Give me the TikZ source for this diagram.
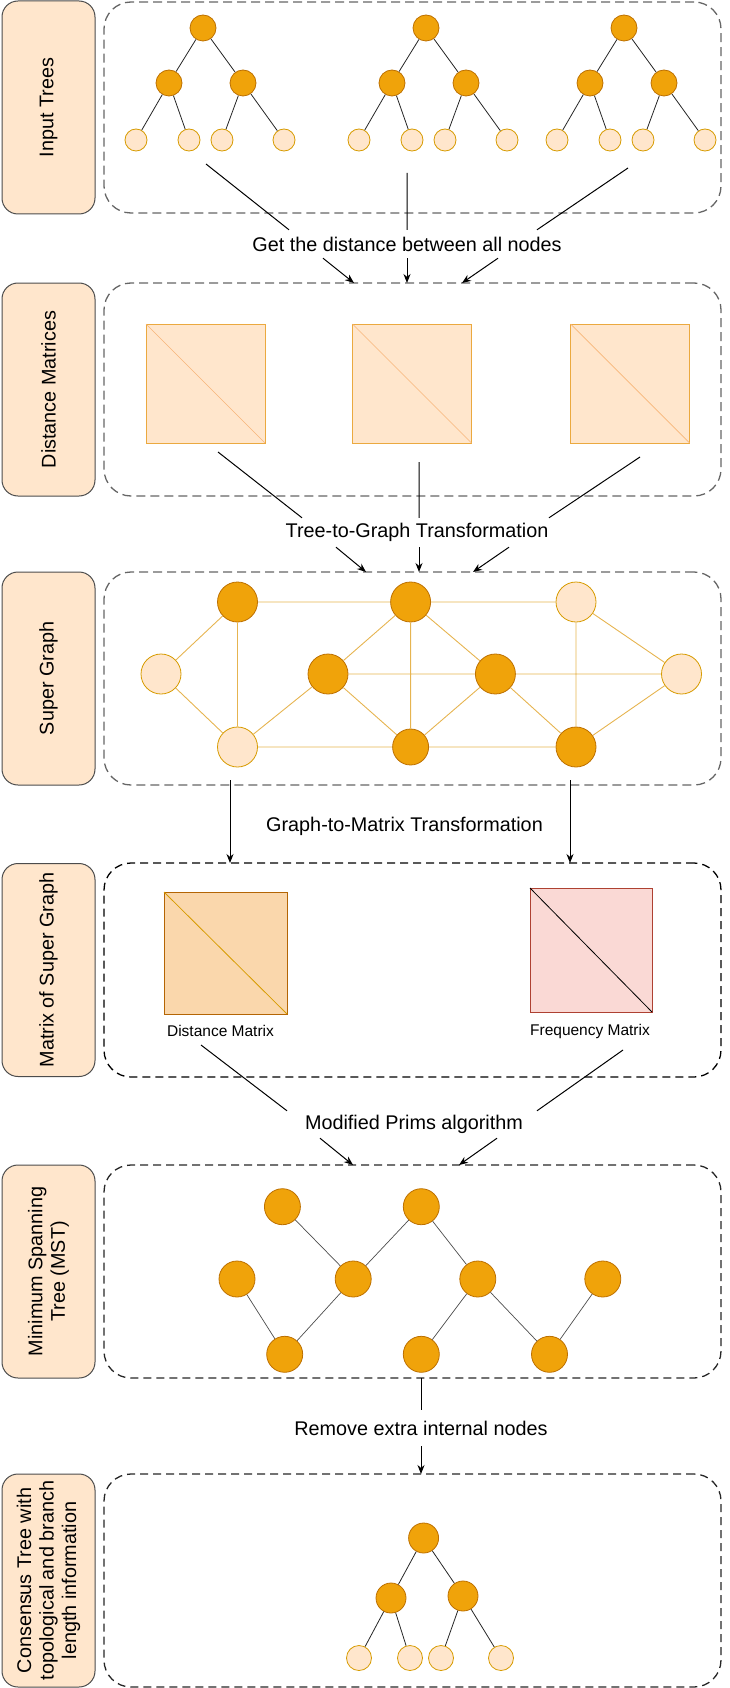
\documentclass[tikz,border=0pt]{standalone}
\usepackage{fontspec}
\setmainfont{Liberation Sans}
\usetikzlibrary{arrows.meta}
\definecolor{peach}{HTML}{FFE6CC}
\definecolor{gold}{HTML}{F0A30A}
\definecolor{golddark}{HTML}{BD7000}
\definecolor{goldline}{HTML}{D79B00}
\definecolor{edgegold}{HTML}{E6B450}
\definecolor{matline}{HTML}{EBA93F}
\definecolor{matdiag}{HTML}{F7B577}
\definecolor{distfill}{HTML}{FAD7AC}
\definecolor{diststroke}{HTML}{B46504}
\definecolor{freqfill}{HTML}{FAD9D5}
\definecolor{freqstroke}{HTML}{AE4132}
\newcommand\bigtxt{\fontsize{19.8}{22.5}\selectfont}
\newcommand\smalltxt{\fontsize{15.5}{18}\selectfont}
\tikzset{
  phase/.style={draw=black!70, fill=peach, rounded corners=16pt, line width=1pt, rotate=90,
    minimum width=213pt, minimum height=93pt, align=center, font=\bigtxt, inner sep=0pt, outer sep=0pt},
  stage/.style={draw=black!60, line width=1.3pt, dash pattern=on 9pt off 5pt, rounded corners=27pt,
    minimum width=617pt, minimum height=213pt, inner sep=0pt, outer sep=0pt},
  dnode/.style={circle, draw=golddark, fill=gold, inner sep=0pt, line width=0.8pt},
  lnode/.style={circle, draw=goldline, fill=peach, inner sep=0pt, line width=0.8pt},
  branch/.style={draw=black!85, line width=0.8pt},
  link/.style={draw=edgegold, line width=0.9pt},
  mat/.style={draw=matline, fill=peach, line width=1pt, minimum size=119pt, inner sep=0pt, outer sep=0pt},
  caption/.style={font=\bigtxt, inner sep=0pt},
  conn/.style={draw=black, line width=1pt},
  arr/.style={conn, -{Stealth[length=9pt,width=7pt]}},
}
\begin{document}
\begin{tikzpicture}[x=1pt,y=-1pt]
\useasboundingbox (0,0) rectangle (730,1688);

\node[phase] (ph1) at (48.5,107.5) {Input Trees};
\node[phase] (ph2) at (48.5,389.5) {Distance Matrices};
\node[phase] (ph3) at (48.5,678.5) {Super Graph};
\node[phase] (ph4) at (48.5,970) {Matrix of Super Graph};
\node[phase] (ph5) at (48.5,1271.5) {Minimum Spanning\\Tree (MST)};
\node[phase] (ph6) at (48.5,1580.5) {Consensus Tree with\\topological and branch\\length information};

\node[stage, minimum height=211pt] (s1) at (412.5,107.5) {};
\node[stage] (s2) at (412.5,389.5) {};
\node[stage] (s3) at (412.5,678.5) {};
\node[stage, draw=black, dash pattern=on 8pt off 5pt, minimum height=214pt] (s4) at (412.5,970) {};
\node[stage, draw=black!85, dash pattern=on 8pt off 5pt] (s5) at (412.5,1271.5) {};
\node[stage, draw=black!85, dash pattern=on 8pt off 5pt] (s6) at (412.5,1580.5) {};

% input trees
\foreach \i/\x in {1/203,2/426,3/624}{
  \node[dnode, minimum size=26pt] (r\i) at (\x,28) {};
  \node[dnode, minimum size=26pt] (a\i) at (\x-34,83) {};
  \node[dnode, minimum size=26pt] (b\i) at (\x+40,83) {};
  \node[lnode, minimum size=22pt] (p\i) at (\x-67,140) {};
  \node[lnode, minimum size=22pt] (q\i) at (\x-14,140) {};
  \node[lnode, minimum size=22pt] (t\i) at (\x+19,140) {};
  \node[lnode, minimum size=22pt] (u\i) at (\x+81,140) {};
  \draw[branch] (r\i) -- (a\i) (r\i) -- (b\i) (a\i) -- (p\i) (a\i) -- (q\i) (b\i) -- (t\i) (b\i) -- (u\i);
}

\node[caption, minimum height=28pt] (getdist) at (407,244) {Get the distance between all nodes};
\coordinate (g1) at (206,164);
\coordinate (g2) at (407,173);
\coordinate (g3) at (628,168);
\draw[conn] (g1) -- ([xshift=-118pt]getdist.north) (g2) -- (getdist.north) (g3) -- ([xshift=130pt]getdist.north);
\draw[arr] ([xshift=-84pt]getdist.south) -- ([xshift=-58.5pt]s2.north);
\draw[arr] (getdist.south) -- ([xshift=-5.5pt]s2.north);
\draw[arr] ([xshift=91pt]getdist.south) -- ([xshift=49.5pt]s2.north);

% distance matrices
\node[mat] (dm1) at (205.5,383.5) {};
\node[mat] (dm2) at (412,383.5) {};
\node[mat] (dm3) at (630,383.5) {};
\draw[draw=matdiag, line width=0.7pt] (dm1.north west) -- (dm1.south east) (dm2.north west) -- (dm2.south east) (dm3.north west) -- (dm3.south east);

\node[caption, minimum height=29pt] (treegraph) at (417,532.5) {Tree-to-Graph Transformation};
\coordinate (h1) at (218,452);
\coordinate (h2) at (419,462);
\coordinate (h3) at (640,457);
\draw[conn] (h1) -- ([xshift=-115pt]treegraph.north) (h2) -- ([xshift=2pt]treegraph.north) (h3) -- ([xshift=132pt]treegraph.north);
\draw[arr] ([xshift=-81pt]treegraph.south) -- ([xshift=-46.5pt]s3.north);
\draw[arr] ([xshift=2pt]treegraph.south) -- ([xshift=6.5pt]s3.north);
\draw[arr] ([xshift=92pt]treegraph.south) -- ([xshift=60.5pt]s3.north);

% super graph
\node[dnode, minimum size=40pt] (ga) at (237.5,602) {};
\node[dnode, minimum size=40pt] (gb) at (410.6,602) {};
\node[lnode, minimum size=40pt] (gc) at (576,602) {};
\node[lnode, minimum size=40pt] (gd) at (161,674) {};
\node[dnode, minimum size=40pt] (ge) at (328,674) {};
\node[dnode, minimum size=40pt] (gf) at (495.4,674) {};
\node[lnode, minimum size=40pt] (gg) at (681.5,674) {};
\node[lnode, minimum size=40pt] (gh) at (237.5,747) {};
\node[dnode, minimum size=36pt] (gi) at (410.6,747) {};
\node[dnode, minimum size=40pt] (gj) at (576,747) {};
\draw[link] (ga) -- (gb) (gb) -- (gc) (ga) -- (gd) (ga) -- (gh) (gd) -- (gh) (gh) -- (ge)
  (gh) -- (gi) (gi) -- (gj) (ge) -- (gf) (gf) -- (gg) (ge) -- (gb) (gb) -- (gf) (gb) -- (gi)
  (ge) -- (gi) (gf) -- (gi) (gf) -- (gj) (gc) -- (gj) (gc) -- (gg) (gg) -- (gj);

\node[caption] (graphmat) at (404.5,826) {Graph-to-Matrix Transformation};
\coordinate (k1) at (230,780);
\coordinate (k2) at (570,780);
\draw[arr] (k1) -- (k1 |- s4.north);
\draw[arr] (k2) -- (k2 |- s4.north);

% matrices of the super graph
\node[draw=diststroke, fill=distfill, line width=1pt, minimum width=123pt, minimum height=122pt, inner sep=0pt, outer sep=0pt] (dmat) at (225.5,953) {};
\draw[draw=goldline, line width=0.8pt] (dmat.north west) -- (dmat.south east);
\node[draw=freqstroke, fill=freqfill, line width=1pt, minimum width=122pt, minimum height=124pt, inner sep=0pt, outer sep=0pt] (fmat) at (591,950) {};
\draw[black, line width=0.8pt] (fmat.north west) -- (fmat.south east);
\node[font=\smalltxt] (dlab) at (220.5,1031) {Distance Matrix};
\node[font=\smalltxt] (flab) at (590,1031) {Frequency Matrix};

\node[caption, minimum height=27pt] (prims) at (414,1124.5) {Modified Prims algorithm};
\coordinate (n1) at (201,1045);
\coordinate (n2) at (623,1050);
\draw[conn] (n1) -- ([xshift=-127pt]prims.north) (n2) -- ([xshift=123pt]prims.north);
\draw[arr] ([xshift=-94pt]prims.south) -- ([xshift=-59.5pt]s5.north);
\draw[arr] ([xshift=83pt]prims.south) -- ([xshift=46.5pt]s5.north);

% minimum spanning tree
\node[dnode, minimum size=36pt] (m1) at (282.4,1206.7) {};
\node[dnode, minimum size=36pt] (m2) at (421.3,1206.7) {};
\node[dnode, minimum size=36pt] (m3) at (237,1279) {};
\node[dnode, minimum size=36pt] (m4) at (353.2,1279) {};
\node[dnode, minimum size=36pt] (m5) at (477.8,1279) {};
\node[dnode, minimum size=36pt] (m6) at (602.8,1279) {};
\node[dnode, minimum size=36pt] (m7) at (284.7,1354.3) {};
\node[dnode, minimum size=36pt] (m8) at (421.3,1354.3) {};
\node[dnode, minimum size=36pt] (m9) at (549.5,1354.3) {};
\draw[branch, draw=black!70, line width=0.7pt] (m1) -- (m4) (m4) -- (m2) (m2) -- (m5) (m3) -- (m7)
  (m4) -- (m7) (m5) -- (m8) (m5) -- (m9) (m6) -- (m9);

\node[caption, minimum height=36pt] (remove) at (421,1428) {Remove extra internal nodes};
\draw[conn] (remove.north |- s5.south) -- (remove.north);
\draw[arr] (remove.south) -- (remove.south |- s6.north);

% consensus tree
\node[dnode, minimum size=30pt] (cr) at (423.6,1538) {};
\node[dnode, minimum size=30pt] (ca) at (391,1598) {};
\node[dnode, minimum size=30pt] (cb) at (463,1596) {};
\node[lnode, minimum size=25pt] (cp) at (359,1658) {};
\node[lnode, minimum size=25pt] (cq) at (410,1658) {};
\node[lnode, minimum size=25pt] (ct) at (441,1658) {};
\node[lnode, minimum size=25pt] (cu) at (501,1658) {};
\draw[branch] (cr) -- (ca) (cr) -- (cb) (ca) -- (cp) (ca) -- (cq) (cb) -- (ct) (cb) -- (cu);
\end{tikzpicture}
\end{document}
